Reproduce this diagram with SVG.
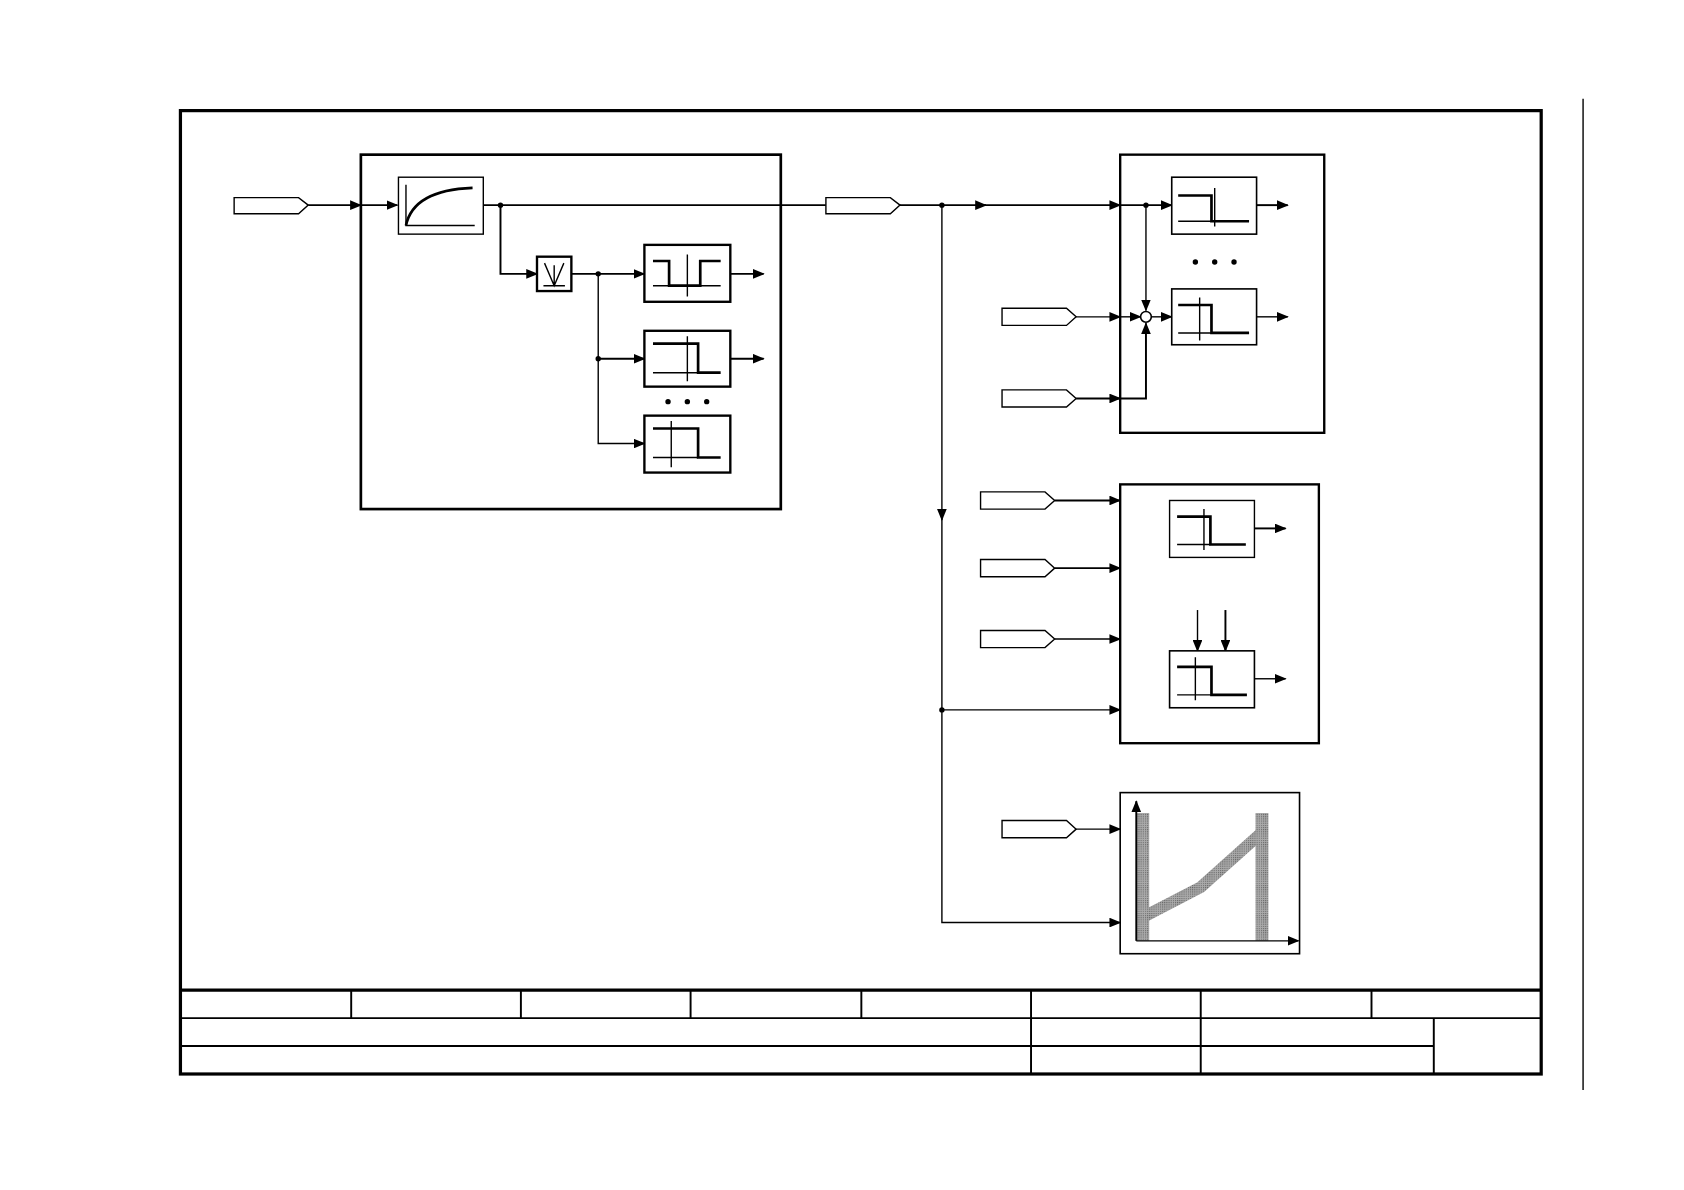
<svg xmlns="http://www.w3.org/2000/svg" width="1684" height="1190" viewBox="0 0 1684 1190">
<defs>
<marker id="a" markerWidth="11" markerHeight="9" refX="10" refY="4.5" orient="auto" markerUnits="userSpaceOnUse"><path d="M0,0 L11,4.5 L0,9 Z" fill="#000"/></marker>
<pattern id="g" width="2" height="2" patternUnits="userSpaceOnUse"><rect width="2" height="2" fill="#aaa"/><rect width="1" height="1" fill="#666"/></pattern>
</defs>
<style>
.f{fill:none;stroke:#000;stroke-width:3}
.b{fill:#fff;stroke:#000;stroke-width:2.2}
.bn{fill:none;stroke:#000;stroke-width:2.2}
.s{fill:#fff;stroke:#000;stroke-width:1.5}
.t{fill:#fff;stroke:#000;stroke-width:1.3}
.l{fill:none;stroke:#000;stroke-width:1.3}
.lt{fill:none;stroke:#000;stroke-width:1.8}
.k{fill:none;stroke:#000;stroke-width:2.5}
</style>
<rect width="1684" height="1190" fill="#fff"/>
<g transform="scale(1.074)">
<g id="frame">
<rect x="168" y="103" width="1267" height="897" class="f"/>
<path d="M168,922 H1435" class="f"/>
<path d="M168,948 H1435 M168,974 H1335" class="lt"/>
<path d="M327,922 V948 M485,922 V948 M643,922 V948 M802,922 V948 M1277,922 V948" class="lt"/>
<path d="M960,922 V1000 M1118,922 V1000 M1335,948 V1000" class="lt"/>
<path d="M1474,92 V1015" class="l"/>
</g>
<g id="box-left">
<rect x="336" y="144" width="391" height="330" fill="none" stroke="#000" stroke-width="2.5"/>
</g>
<g id="box-r1"><rect x="1043" y="144" width="190" height="259" class="bn"/></g>
<g id="box-r2"><rect x="1043" y="451" width="185" height="241" class="bn"/></g>
<g id="box-r3"><rect x="1043" y="738" width="167" height="150" fill="none" stroke="#000" stroke-width="1.5"/></g>
<g id="connectors">
<path d="M287,191 H336" class="lt" marker-end="url(#a)"/>
<path d="M336,191 H370" class="lt" marker-end="url(#a)"/>
<path d="M450,191 H769" class="lt"/>
<path d="M466,191 V255 H500" class="lt" marker-end="url(#a)"/>
<path d="M532,255 H600" class="lt" marker-end="url(#a)"/>
<path d="M557,255 V413 H600" class="l" marker-end="url(#a)"/>
<path d="M557,334 H600" class="lt" marker-end="url(#a)"/>
<path d="M680,255 H711" class="lt" marker-end="url(#a)"/>
<path d="M680,334 H711" class="lt" marker-end="url(#a)"/>
<path d="M838,191 H918" class="lt" marker-end="url(#a)"/>
<path d="M916,191 H1043" class="lt" marker-end="url(#a)"/>
<path d="M1043,191 H1091" class="lt" marker-end="url(#a)"/>
<path d="M1170,191 H1199" class="lt" marker-end="url(#a)"/>
<path d="M877,191 V484" class="l" marker-end="url(#a)"/>
<path d="M877,480 V859 H1043" class="l" marker-end="url(#a)"/>
<path d="M877,661 H1043" class="l" marker-end="url(#a)"/>
<path d="M1067,191 V289" class="l" marker-end="url(#a)"/>
<path d="M1002,295 H1043" class="l" marker-end="url(#a)"/>
<path d="M1043,295 H1062" class="l" marker-end="url(#a)"/>
<path d="M1072,295 H1091" class="l" marker-end="url(#a)"/>
<path d="M1170,295 H1199" class="l" marker-end="url(#a)"/>
<path d="M1002,371 H1043" class="lt" marker-end="url(#a)"/>
<path d="M1043,371 H1067 V301" class="lt" marker-end="url(#a)"/>
<path d="M982,466 H1043" class="lt" marker-end="url(#a)"/>
<path d="M982,529 H1043" class="lt" marker-end="url(#a)"/>
<path d="M982,595 H1043" class="l" marker-end="url(#a)"/>
<path d="M1168,492 H1197" class="lt" marker-end="url(#a)"/>
<path d="M1168,632 H1197" class="l" marker-end="url(#a)"/>
<path d="M1115,568 V606" class="l" marker-end="url(#a)"/>
<path d="M1141,568 V606" class="lt" marker-end="url(#a)"/>
<path d="M1002,772 H1043" class="l" marker-end="url(#a)"/>
<g fill="#000"><circle cx="466" cy="191" r="2.5"/><circle cx="557" cy="255" r="2.5"/><circle cx="557" cy="334" r="2.5"/><circle cx="877" cy="191" r="2.5"/><circle cx="877" cy="661" r="2.5"/><circle cx="1067" cy="191" r="2.5"/></g>
<circle cx="1067" cy="295" r="5" class="s"/>
</g>
<g id="tags">
<path d="M218,184 H278 L287,191 L278,199 H218 Z" class="t"/>
<path d="M769,184 H829 L838,191 L829,199 H769 Z" class="t"/>
<path d="M933,287 H993 L1002,295 L993,303 H933 Z" class="t"/>
<path d="M933,363 H993 L1002,371 L993,379 H933 Z" class="t"/>
<path d="M913,458 H973 L982,466 L973,474 H913 Z" class="t"/>
<path d="M913,521 H973 L982,529 L973,537 H913 Z" class="t"/>
<path d="M913,587 H973 L982,595 L973,603 H913 Z" class="t"/>
<path d="M933,764 H993 L1002,772 L993,780 H933 Z" class="t"/>
</g>
<g id="pt1">
<rect x="371" y="165" width="79" height="53" class="t"/>
<path d="M378,172 V210 H442" class="l"/>
<path d="M378,210 Q385,177 440,175" class="k"/>
</g>
<g id="absval">
<rect x="500" y="239" width="32" height="32" class="b"/>
<path d="M507,245 L516,266 L525,245 M516,247 V266 M506,266 H526" class="l"/>
</g>
<g id="cmp1">
<rect x="600" y="228" width="80" height="53" class="b"/>
<path d="M608,243 H623 V266 H652 V243 H671" class="k"/>
<path d="M608,266 H671 M640,237 V276" class="l"/>
</g>
<g id="cmp2">
<rect x="600" y="308" width="80" height="52" class="b"/>
<path d="M608,320 H650 V347 H671" class="k"/>
<path d="M608,347 H650 M640,313 V355" class="l"/>
</g>
<g id="cmp3">
<rect x="600" y="387" width="80" height="53" class="b"/>
<path d="M608,399 H650 V426 H671" class="k"/>
<path d="M608,426 H650 M625,392 V435" class="l"/>
</g>
<g id="dots1" fill="#000"><circle cx="622" cy="374" r="2.5"/><circle cx="640" cy="374" r="2.5"/><circle cx="658" cy="374" r="2.5"/></g>
<g id="cmp-r1a">
<rect x="1091" y="165" width="79" height="53" class="s"/>
<path d="M1097,182 H1128 V206 H1163" class="k"/>
<path d="M1097,206 H1128 M1131,175 V211" class="l"/>
</g>
<g id="dots2" fill="#000"><circle cx="1113" cy="244" r="2.5"/><circle cx="1131" cy="244" r="2.5"/><circle cx="1149" cy="244" r="2.5"/></g>
<g id="cmp-r1b">
<rect x="1091" y="269" width="79" height="52" class="s"/>
<path d="M1097,284 H1128 V310 H1163" class="k"/>
<path d="M1097,310 H1128 M1117,277 V317" class="l"/>
</g>
<g id="cmp-r2a">
<rect x="1089" y="466" width="79" height="53" class="t"/>
<path d="M1096,481 H1127 V507 H1160" class="k"/>
<path d="M1096,507 H1127 M1121,474 V512" class="l"/>
</g>
<g id="cmp-r2b">
<rect x="1089" y="606" width="79" height="53" class="s"/>
<path d="M1096,621 H1128 V647 H1161" class="k"/>
<path d="M1096,647 H1128 M1113,612 V652" class="l"/>
</g>
<g id="chart">
<rect x="1058" y="757" width="12" height="119" fill="url(#g)"/>
<rect x="1169" y="757" width="12" height="119" fill="url(#g)"/>
<path d="M1064,854 L1118,826 L1175,775" fill="none" stroke="url(#g)" stroke-width="11"/>
<path d="M1058,876 V746" class="lt" marker-end="url(#a)"/>
<path d="M1058,876 H1209" class="l" marker-end="url(#a)"/>
</g>
</g>
</svg>
